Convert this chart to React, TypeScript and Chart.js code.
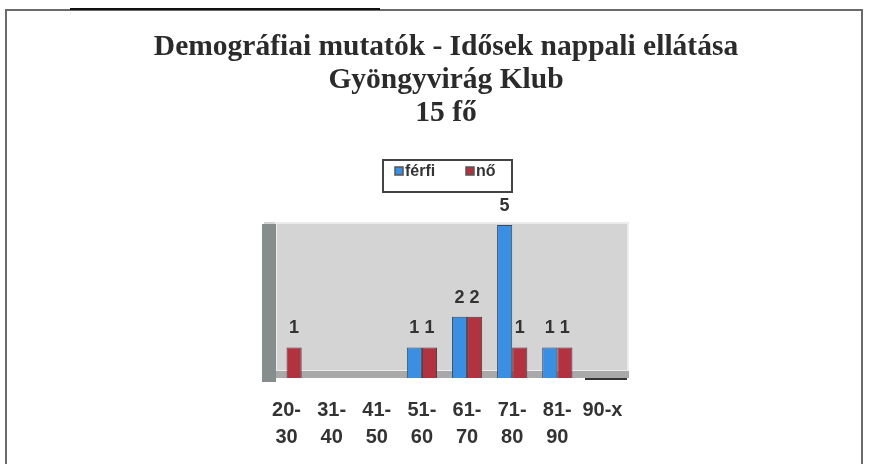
import React, { useEffect, useRef } from "react";
import { Chart, registerables } from "chart.js";

Chart.register(...registerables);

const categories: (string | string[])[] = [
  ["20-", "30"],
  ["31-", "40"],
  ["41-", "50"],
  ["51-", "60"],
  ["61-", "70"],
  ["71-", "80"],
  ["81-", "90"],
  ["90-x", ""],
];
const ferfi = [0, 0, 0, 1, 2, 5, 1, 0];
const no = [1, 0, 0, 1, 2, 1, 1, 0];
const titleLines = [
  "Demográfiai mutatók - Idősek nappali ellátása",
  "Gyöngyvirág Klub",
  "15 fő",
];
const seriesNames = ["férfi", "nő"];

const BLUE = "#3b8fe2";
const RED = "#b3323f";

const decor = {
  id: "decor",
  beforeDraw(chart: any) {
    const { ctx, chartArea } = chart;
    const { left, right, top, bottom } = chartArea;
    ctx.save();
    ctx.fillStyle = "#ffffff";
    ctx.fillRect(0, 0, chart.width, chart.height);
    // outer frame
    ctx.strokeStyle = "#6a6a6a";
    ctx.lineWidth = 2;
    ctx.strokeRect(6, 10, 856, 470);
    ctx.strokeStyle = "#111";
    ctx.beginPath();
    ctx.moveTo(70, 9);
    ctx.lineTo(380, 9);
    ctx.stroke();
    // plot wall
    ctx.fillStyle = "#d4d4d4";
    ctx.fillRect(left, top, right + 4 - left, bottom - top);
    ctx.strokeStyle = "#ececec";
    ctx.lineWidth = 2;
    ctx.strokeRect(left + 12, top + 1, right + 3 - left - 12, bottom - top - 8);
    // left side wall
    ctx.fillStyle = "#858d8d";
    ctx.fillRect(left - 2, top + 2, 14, bottom - top + 2);
    // floor
    ctx.fillStyle = "#a9a9a9";
    ctx.fillRect(left + 12, bottom - 7, right + 4 - left - 12, 7);
    ctx.fillStyle = "#333";
    ctx.fillRect(right - 40, bottom, 42, 2);
    ctx.restore();
  },
  afterDatasetsDraw(chart: any) {
    const { ctx } = chart;
    ctx.save();
    ctx.font = "bold 18px 'Liberation Sans', Arial, sans-serif";
    ctx.fillStyle = "#333";
    ctx.textAlign = "center";
    ctx.textBaseline = "bottom";
    chart.data.datasets.forEach((ds: any, di: number) => {
      const meta = chart.getDatasetMeta(di);
      meta.data.forEach((bar: any, i: number) => {
        const v = ds.data[i];
        if (v > 0) ctx.fillText(String(v), bar.x, bar.y - 10);
      });
    });
    // title
    ctx.font = "bold 29.5px 'Liberation Serif', 'Times New Roman', serif";
    ctx.fillStyle = "#2b2b2b";
    ctx.textBaseline = "middle";
    const ys = [47, 80, 113];
    titleLines.forEach((t, i) => ctx.fillText(t, 446, ys[i]));
    // legend
    ctx.strokeStyle = "#444";
    ctx.lineWidth = 2;
    ctx.strokeRect(383, 160, 129, 32);
    const items = [
      { c: BLUE, x: 395, tx: 405 },
      { c: RED, x: 466, tx: 476 },
    ];
    ctx.font = "bold 16px 'Liberation Sans', Arial, sans-serif";
    ctx.textAlign = "left";
    items.forEach((it, i) => {
      ctx.fillStyle = it.c;
      ctx.fillRect(it.x, 167, 8, 8);
      ctx.strokeStyle = "#555";
      ctx.lineWidth = 1.5;
      ctx.strokeRect(it.x, 167, 8, 8);
      ctx.fillStyle = "#333";
      ctx.fillText(seriesNames[i], it.tx, 172);
    });
    ctx.restore();
  },
};

export default function App() {
  const ref = useRef<HTMLCanvasElement | null>(null);
  useEffect(() => {
    if (!ref.current) return;
    const chart = new Chart(ref.current, {
      type: "bar",
      data: {
        labels: categories,
        datasets: [
          {
            label: seriesNames[0],
            data: ferfi,
            backgroundColor: BLUE,
            borderColor: "#3a4a5a",
            borderWidth: 1,
            categoryPercentage: 0.67,
            barPercentage: 1,
          },
          {
            label: seriesNames[1],
            data: no,
            backgroundColor: RED,
            borderColor: "#4a3a3e",
            borderWidth: 1,
            categoryPercentage: 0.67,
            barPercentage: 1,
          },
        ],
      },
      options: {
        responsive: false,
        animation: false,
        layout: { padding: { left: 264, right: 253, top: 222, bottom: 6 } },
        plugins: {
          legend: { display: false },
          title: { display: false },
          tooltip: { enabled: false },
        },
        scales: {
          x: {
            grid: { display: false, drawTicks: false },
            border: { display: false },
            ticks: {
              color: "#333",
              padding: 19,
              maxRotation: 0,
              autoSkip: false,
              font: { family: "'Liberation Sans', Arial, sans-serif", size: 20, weight: "bold", lineHeight: 1.35 },
            },
            afterFit: (scale: any) => {
              scale.height = 80;
            },
          },
          y: {
            display: false,
            min: 0,
            max: 5.1,
          },
        },
      },
      plugins: [decor],
    });
    return () => chart.destroy();
  }, []);
  return (
    <div style={{ position: "absolute", left: 0, top: 0, width: 878, height: 464 }}>
      <canvas ref={ref} width={878} height={464} style={{ width: 878, height: 464 }} />
    </div>
  );
}
